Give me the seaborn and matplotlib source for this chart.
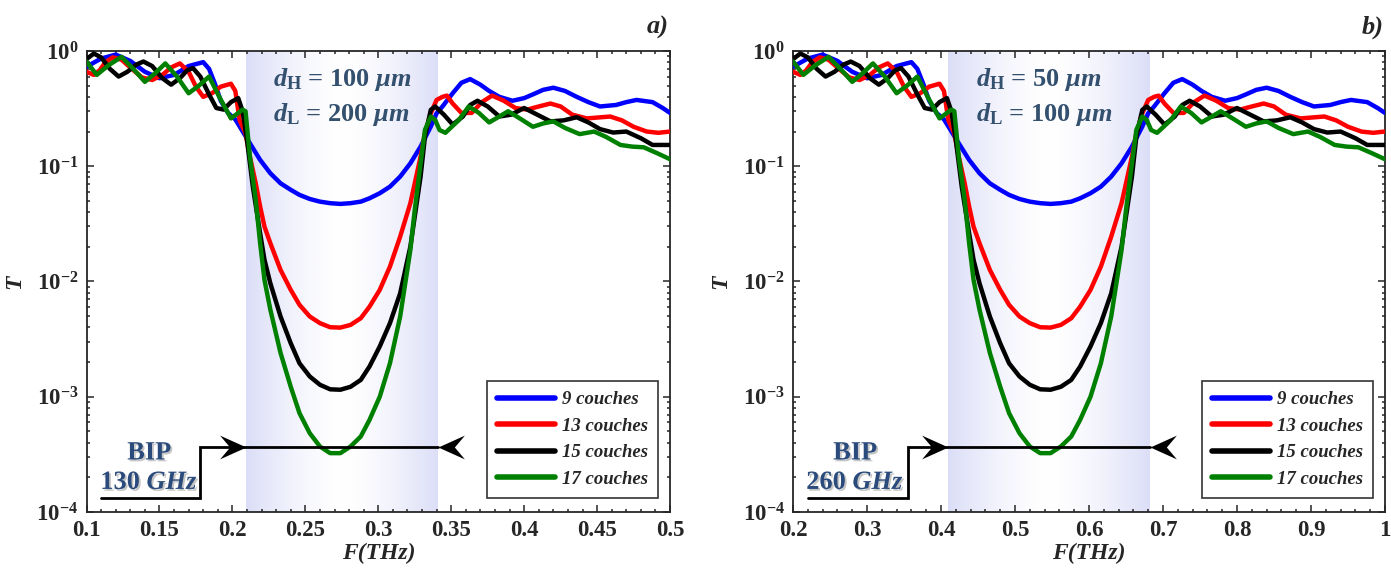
import seaborn as sns
import matplotlib.pyplot as plt
import matplotlib.patheffects as pe
from matplotlib.path import Path
from matplotlib.ticker import MultipleLocator, LogLocator
import pandas as pd
import numpy as np

# Transmission values (same spectra in both panels,
# panel b just sits on a frequency axis twice as wide)
t9 = [0.73, 0.86, 0.93, 0.82, 0.66, 0.58, 0.62, 0.74, 0.80, 0.70, 0.52, 0.37, 0.29, 0.255,
      0.221, 0.158, 0.1135, 0.0869, 0.0711, 0.0624, 0.0564, 0.052, 0.0493, 0.0478, 0.0471,
      0.0478, 0.0493, 0.0527, 0.0583, 0.0665, 0.0813, 0.106, 0.148, 0.221, 0.288, 0.33,
      0.43, 0.53, 0.57, 0.51, 0.45, 0.40, 0.37, 0.39, 0.42, 0.46, 0.48, 0.45, 0.40, 0.36,
      0.33, 0.34, 0.36, 0.376, 0.36, 0.32, 0.29]
t13 = [0.66, 0.62, 0.68, 0.80, 0.88, 0.84, 0.70, 0.59, 0.56, 0.62, 0.72, 0.78, 0.66, 0.49,
       0.40, 0.43, 0.49, 0.52, 0.45, 0.25, 0.193, 0.121, 0.0711, 0.0447, 0.0299, 0.0215,
       0.0126, 0.00845, 0.00627, 0.00497, 0.00435, 0.00401, 0.00398, 0.0042, 0.0048, 0.00605,
       0.00845, 0.01346, 0.0245, 0.0478, 0.0711, 0.121, 0.193, 0.288, 0.376, 0.40, 0.41,
       0.35, 0.29, 0.29, 0.36, 0.41, 0.37, 0.32, 0.31, 0.33, 0.35, 0.33, 0.28, 0.26, 0.265,
       0.27, 0.25, 0.22, 0.20, 0.195, 0.20]
t15 = [0.85, 0.95, 0.88, 0.70, 0.60, 0.66, 0.76, 0.81, 0.74, 0.58, 0.51, 0.58, 0.68, 0.71,
       0.60, 0.42, 0.32, 0.31, 0.36, 0.39, 0.30, 0.169, 0.0665, 0.0262, 0.0154, 0.00966,
       0.00497, 0.00291, 0.00195, 0.0015, 0.00127, 0.00116, 0.00115, 0.00122, 0.0014,
       0.00183, 0.00273, 0.00435, 0.0079, 0.0201, 0.0366, 0.0813, 0.181, 0.308, 0.33, 0.28,
       0.23, 0.27, 0.34, 0.37, 0.33, 0.27, 0.28, 0.32, 0.28, 0.245, 0.25, 0.266, 0.24, 0.21,
       0.196, 0.20, 0.175, 0.153, 0.153]
t17 = [0.81, 0.62, 0.75, 0.89, 0.70, 0.54, 0.64, 0.78, 0.60, 0.43, 0.50, 0.60, 0.40, 0.26,
       0.29, 0.31, 0.30, 0.121, 0.051, 0.0215, 0.0103, 0.0057, 0.0024, 0.00122, 0.00072,
       0.000483, 0.00037, 0.000324, 0.000324, 0.00037, 0.000452, 0.00063, 0.0010, 0.00195,
       0.00497, 0.0188, 0.0418, 0.106, 0.207, 0.27, 0.252, 0.206, 0.195, 0.25, 0.33, 0.29,
       0.24, 0.27, 0.30, 0.26, 0.22, 0.235, 0.245, 0.215, 0.19, 0.20, 0.18, 0.153, 0.148,
       0.146, 0.13, 0.115]

# frequencies (THz), panel a
f9_a = [0.100, 0.110, 0.120, 0.130, 0.140, 0.150, 0.160, 0.170, 0.180, 0.184, 0.188, 0.192,
        0.197, 0.202, 0.205, 0.212, 0.219, 0.226, 0.233, 0.240, 0.246, 0.253, 0.260, 0.267,
        0.274, 0.281, 0.288, 0.294, 0.301, 0.308, 0.315, 0.322, 0.329, 0.336, 0.340, 0.344,
        0.351, 0.357, 0.363, 0.370, 0.376, 0.383, 0.392, 0.400, 0.406, 0.413, 0.420, 0.428,
        0.436, 0.444, 0.452, 0.463, 0.470, 0.477, 0.488, 0.495, 0.500]
f13_a = [0.100, 0.105, 0.109, 0.113, 0.118, 0.124, 0.131, 0.138, 0.145, 0.152, 0.158, 0.164,
         0.170, 0.175, 0.180, 0.186, 0.192, 0.199, 0.202, 0.205, 0.209, 0.212, 0.216, 0.219,
         0.222, 0.226, 0.233, 0.240, 0.246, 0.253, 0.260, 0.267, 0.274, 0.281, 0.288, 0.294,
         0.301, 0.308, 0.315, 0.322, 0.325, 0.329, 0.332, 0.336, 0.340, 0.344, 0.347, 0.351,
         0.357, 0.364, 0.371, 0.378, 0.386, 0.394, 0.402, 0.410, 0.418, 0.425, 0.433, 0.443,
         0.451, 0.459, 0.467, 0.475, 0.484, 0.492, 0.500]
f15_a = [0.100, 0.105, 0.110, 0.116, 0.122, 0.128, 0.134, 0.139, 0.145, 0.152, 0.158, 0.164,
         0.169, 0.173, 0.178, 0.184, 0.189, 0.194, 0.199, 0.204, 0.207, 0.210, 0.214, 0.219,
         0.222, 0.226, 0.233, 0.240, 0.246, 0.253, 0.260, 0.267, 0.274, 0.281, 0.288, 0.294,
         0.301, 0.308, 0.315, 0.322, 0.325, 0.329, 0.332, 0.336, 0.339, 0.345, 0.351, 0.358,
         0.363, 0.368, 0.375, 0.383, 0.391, 0.400, 0.409, 0.418, 0.427, 0.436, 0.444, 0.452,
         0.461, 0.470, 0.480, 0.488, 0.500]
f17_a = [0.100, 0.107, 0.115, 0.124, 0.132, 0.140, 0.147, 0.154, 0.162, 0.170, 0.177, 0.184,
         0.191, 0.199, 0.204, 0.207, 0.209, 0.212, 0.216, 0.219, 0.222, 0.226, 0.233, 0.240,
         0.246, 0.253, 0.260, 0.267, 0.274, 0.281, 0.288, 0.294, 0.301, 0.308, 0.315, 0.322,
         0.325, 0.329, 0.332, 0.336, 0.339, 0.342, 0.346, 0.355, 0.362, 0.369, 0.376, 0.383,
         0.389, 0.397, 0.406, 0.413, 0.420, 0.428, 0.438, 0.448, 0.456, 0.466, 0.474, 0.482,
         0.491, 0.500]

# frequencies (THz), panel b
f9_b = [0.200, 0.220, 0.240, 0.260, 0.280, 0.300, 0.320, 0.340, 0.360, 0.368, 0.376, 0.384,
        0.394, 0.404, 0.410, 0.424, 0.438, 0.452, 0.466, 0.480, 0.492, 0.506, 0.520, 0.534,
        0.548, 0.562, 0.576, 0.588, 0.602, 0.616, 0.630, 0.644, 0.658, 0.672, 0.680, 0.688,
        0.702, 0.714, 0.726, 0.740, 0.752, 0.766, 0.784, 0.800, 0.812, 0.826, 0.840, 0.856,
        0.872, 0.888, 0.904, 0.926, 0.940, 0.954, 0.976, 0.990, 1.000]
f13_b = [0.200, 0.210, 0.218, 0.226, 0.236, 0.248, 0.262, 0.276, 0.290, 0.304, 0.316, 0.328,
         0.340, 0.350, 0.360, 0.372, 0.384, 0.398, 0.404, 0.410, 0.418, 0.424, 0.432, 0.438,
         0.444, 0.452, 0.466, 0.480, 0.492, 0.506, 0.520, 0.534, 0.548, 0.562, 0.576, 0.588,
         0.602, 0.616, 0.630, 0.644, 0.650, 0.658, 0.664, 0.672, 0.680, 0.688, 0.694, 0.702,
         0.714, 0.728, 0.742, 0.756, 0.772, 0.788, 0.804, 0.820, 0.836, 0.850, 0.866, 0.886,
         0.902, 0.918, 0.934, 0.950, 0.968, 0.984, 1.000]
f15_b = [0.200, 0.210, 0.220, 0.232, 0.244, 0.256, 0.268, 0.278, 0.290, 0.304, 0.316, 0.328,
         0.338, 0.346, 0.356, 0.368, 0.378, 0.388, 0.398, 0.408, 0.414, 0.420, 0.428, 0.438,
         0.444, 0.452, 0.466, 0.480, 0.492, 0.506, 0.520, 0.534, 0.548, 0.562, 0.576, 0.588,
         0.602, 0.616, 0.630, 0.644, 0.650, 0.658, 0.664, 0.672, 0.678, 0.690, 0.702, 0.716,
         0.726, 0.736, 0.750, 0.766, 0.782, 0.800, 0.818, 0.836, 0.854, 0.872, 0.888, 0.904,
         0.922, 0.940, 0.960, 0.976, 1.000]
f17_b = [0.200, 0.214, 0.230, 0.248, 0.264, 0.280, 0.294, 0.308, 0.324, 0.340, 0.354, 0.368,
         0.382, 0.398, 0.408, 0.414, 0.418, 0.424, 0.432, 0.438, 0.444, 0.452, 0.466, 0.480,
         0.492, 0.506, 0.520, 0.534, 0.548, 0.562, 0.576, 0.588, 0.602, 0.616, 0.630, 0.644,
         0.650, 0.658, 0.664, 0.672, 0.678, 0.684, 0.692, 0.710, 0.724, 0.738, 0.752, 0.766,
         0.778, 0.794, 0.812, 0.826, 0.840, 0.856, 0.876, 0.896, 0.912, 0.932, 0.948, 0.964,
         0.982, 1.000]

labels = ['9 couches', '13 couches', '15 couches', '17 couches']
colors = ['#0000ff', '#ff0000', '#000000', '#008000']

gap_a = [0.209, 0.341]
gap_b = [0.410, 0.683]
bip_a = '130'
bip_b = '260'
dh_a, dl_a = '100', '200'
dh_b, dl_b = '50', '100'

sns.set_style('ticks')
plt.rcParams['font.family'] = ['Liberation Serif', 'DejaVu Serif']
plt.rcParams['font.weight'] = 'bold'
plt.rcParams['mathtext.fontset'] = 'custom'
plt.rcParams['mathtext.rm'] = 'Liberation Serif:bold'
plt.rcParams['mathtext.it'] = 'Liberation Serif:italic:bold'
plt.rcParams['mathtext.bf'] = 'Liberation Serif:bold'

TXT = '#34506f'
BIPC = '#2a4b7c'


def make_df(fs):
    rows = []
    for f, t, lab in zip(fs, [t9, t13, t15, t17], labels):
        rows.append(pd.DataFrame({'F': f, 'T': t, 'couches': lab}))
    return pd.concat(rows, ignore_index=True)


def arrow_marker(direction):
    # stealth style arrow head, tip at the origin
    s = 1 if direction == 'right' else -1
    verts = [(0, 0), (-s * 1.0, 0.45), (-s * 0.62, 0), (-s * 1.0, -0.45), (0, 0)]
    codes = [Path.MOVETO, Path.LINETO, Path.LINETO, Path.LINETO, Path.CLOSEPOLY]
    return Path(verts, codes)


def draw_panel(ax, fs, xlim, major, minor, gap, step_x, bip, dh, dl, dtext_x, bip_x, tag):
    # shaded gap with a white centre
    n = 300
    u = np.linspace(-1, 1, n)
    w = np.abs(u) ** 1.5
    lav = np.array([0.86, 0.87, 0.97])
    grad = 1 - w[:, None] * (1 - lav[None, :])
    grad = np.repeat(grad[None, :, :], 2, axis=0)
    ax.imshow(grad, extent=(gap[0], gap[1], 1e-4, 1), aspect='auto',
              interpolation='bilinear', zorder=0)

    df = make_df(fs)
    sns.lineplot(data=df, x='F', y='T', hue='couches', hue_order=labels,
                 palette=dict(zip(labels, colors)), linewidth=3.2,
                 estimator=None, errorbar=None, ax=ax, zorder=3,
                 solid_joinstyle='round', solid_capstyle='round')

    ax.set_yscale('log')
    ax.set_xlim(*xlim)
    ax.set_ylim(1e-4, 1)

    # BIP bracket
    y_lo, y_hi = 1.33e-4, 3.7e-4
    ax.plot([step_x[0], step_x[1], step_x[1], gap[1]], [y_lo, y_lo, y_hi, y_hi],
            color='k', lw=2.0, zorder=4, solid_joinstyle='miter')
    ax.plot([gap[0]], [y_hi], marker=arrow_marker('right'), ms=38, color='k',
            mec='k', mew=0, zorder=5, clip_on=False)
    ax.plot([gap[1]], [y_hi], marker=arrow_marker('left'), ms=38, color='k',
            mec='k', mew=0, zorder=5, clip_on=False)

    shadow = [pe.withSimplePatchShadow(offset=(1.3, -1.3), shadow_rgbFace=(0.55, 0.55, 0.55), alpha=0.5)]
    ax.text(bip_x, 3.25e-4, 'BIP', ha='center', va='center', fontsize=19,
            color=BIPC, path_effects=shadow, zorder=6)
    ax.text(bip_x, 1.8e-4, bip + r' $GHz$', ha='center', va='center', fontsize=19,
            color=BIPC, path_effects=shadow, zorder=6)

    ax.text(dtext_x, 10 ** -0.25, r'$d_{\rm H}$ = ' + dh + r' $\mu m$', ha='left', va='center',
            fontsize=19, color=TXT, zorder=6)
    ax.text(dtext_x, 10 ** -0.555, r'$d_{\rm L}$ = ' + dl + r' $\mu m$', ha='left', va='center',
            fontsize=19, color=TXT, zorder=6)

    ax.text(0.997, 1.052, tag, transform=ax.transAxes, ha='right', va='center',
            fontsize=19, fontstyle='italic', fontweight='bold')

    ax.xaxis.set_major_locator(MultipleLocator(major))
    ax.xaxis.set_minor_locator(MultipleLocator(minor))
    ax.yaxis.set_major_locator(LogLocator(base=10, numticks=10))
    ax.yaxis.set_minor_locator(LogLocator(base=10, subs=np.arange(2, 10), numticks=10))
    ax.tick_params(which='both', direction='in', top=True, right=True, width=1.1)
    ax.tick_params(which='major', length=5, labelsize=16.5, pad=6)
    ax.tick_params(which='minor', length=2.5)
    for sp in ax.spines.values():
        sp.set_linewidth(1.3)
        sp.set_visible(True)

    ax.set_xlabel('F(THz)', fontsize=17, fontstyle='italic', fontweight='bold', labelpad=1)
    ax.set_ylabel('T', fontsize=17, fontstyle='italic', fontweight='bold', labelpad=8)

    leg = ax.get_legend()
    handles = leg.legend_handles
    texts = [t.get_text() for t in leg.get_texts()]
    leg.remove()
    new = ax.legend(handles, texts, loc='lower right', bbox_to_anchor=(0.98, 0.03),
                    borderaxespad=0, fancybox=False, frameon=True, handlelength=3.1,
                    prop={'family': 'Liberation Serif', 'style': 'italic', 'weight': 'bold', 'size': 13.5},
                    labelspacing=0.5, borderpad=0.55, handletextpad=0.35)
    new.get_frame().set_edgecolor('k')
    new.get_frame().set_linewidth(1.2)
    new.set_zorder(7)
    for h in new.legend_handles:
        h.set_linewidth(4)


fig = plt.figure(figsize=(13.91, 5.69), dpi=100)
ax_a = fig.add_axes([0.0622, 0.1002, 0.4195, 0.8102])
ax_b = fig.add_axes([0.5701, 0.1002, 0.4256, 0.8102])

draw_panel(ax_a, [f9_a, f13_a, f15_a, f17_a], (0.1, 0.5), 0.05, 0.01, gap_a,
           (0.110, 0.178), bip_a, dh_a, dl_a, 0.228, 0.143, 'a)')
draw_panel(ax_b, [f9_b, f13_b, f15_b, f17_b], (0.2, 1.0), 0.1, 0.02, gap_b,
           (0.220, 0.355), bip_b, dh_b, dl_b, 0.447, 0.284, 'b)')

ax_a.set_xticks([0.1, 0.15, 0.2, 0.25, 0.3, 0.35, 0.4, 0.45, 0.5])
ax_a.set_xticklabels(['0.1', '0.15', '0.2', '0.25', '0.3', '0.35', '0.4', '0.45', '0.5'])
ax_b.set_xticks([0.2, 0.3, 0.4, 0.5, 0.6, 0.7, 0.8, 0.9, 1.0])
ax_b.set_xticklabels(['0.2', '0.3', '0.4', '0.5', '0.6', '0.7', '0.8', '0.9', '1'])

fig.savefig('out.png', dpi=100)
